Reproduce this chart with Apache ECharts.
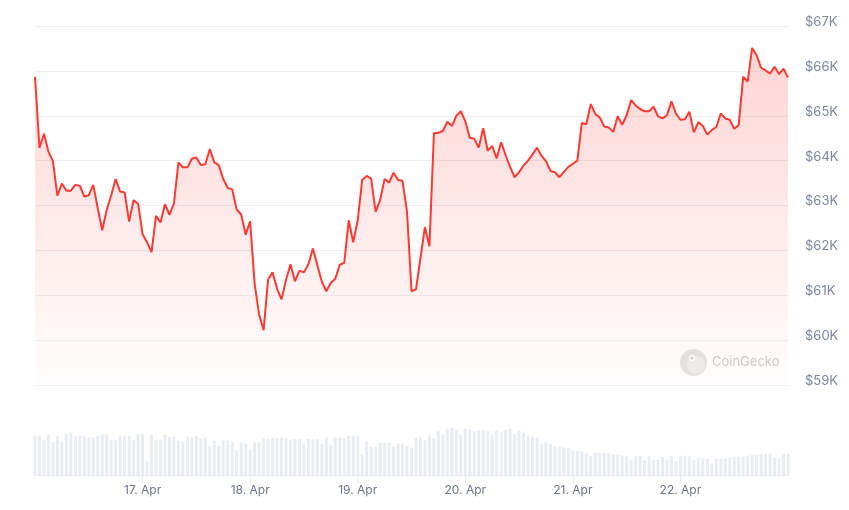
<!DOCTYPE html>
<html>
<head>
<meta charset="utf-8">
<script src="https://cdn.jsdelivr.net/npm/echarts@6/dist/echarts.min.js"></script>
<style>
html, body { margin: 0; padding: 0; background: #fff; }
#chart { width: 849px; height: 510px; }
</style>
</head>
<body>
<div id="chart"></div>
<script>
// hourly points, 16 Apr 00:00 -> 23 Apr 00:00
const startTime = Date.UTC(2024, 3, 16, 0, 0);
const hours = [];
for (let i = 0; i < 169; i++) {
    hours.push(new Date(startTime + i * 3600 * 1000).toISOString());
}

// BTC price (USD)
const prices = [
    65870, 64280, 64600, 64200, 63990, 63220, 63490, 63330, 63330, 63460,
    63440, 63200, 63230, 63460, 62940, 62450, 62900, 63230, 63590, 63310,
    63290, 62640, 63120, 63040, 62360, 62180, 61960, 62770, 62620, 63030,
    62790, 63050, 63960, 63850, 63850, 64040, 64070, 63900, 63920, 64260,
    63960, 63900, 63590, 63390, 63360, 62910, 62800, 62350, 62650, 61260,
    60570, 60220, 61350, 61510, 61150, 60910, 61340, 61690, 61310, 61550,
    61510, 61690, 62040, 61670, 61300, 61090, 61280, 61370, 61680, 61720,
    62670, 62180, 62670, 63570, 63660, 63600, 62860, 63120, 63590, 63510,
    63730, 63570, 63550, 62860, 61090, 61130, 61830, 62520, 62090, 64610,
    64620, 64660, 64870, 64770, 65000, 65100, 64880, 64510, 64490, 64290,
    64720, 64220, 64330, 64050, 64410, 64120, 63860, 63630, 63740, 63890,
    64000, 64140, 64290, 64110, 63990, 63770, 63740, 63630, 63750, 63860,
    63930, 64000, 64840, 64810, 65260, 65040, 64960, 64760, 64740, 64640,
    64990, 64800, 65010, 65350, 65230, 65150, 65100, 65100, 65200, 64990,
    64940, 65010, 65320, 65050, 64910, 64920, 65090, 64630, 64860, 64770,
    64580, 64680, 64750, 65050, 64940, 64910, 64710, 64790, 65870, 65760,
    66510, 66350, 66070, 66010, 65940, 66090, 65930, 66050, 65850
];

// relative traded volume per hour (bar heights, no axis shown)
const volumes = [
    39.3, 39.3, 34.7, 40.3, 33.3, 39.3, 33.3, 41.3, 42.3, 38.7,
    39.3, 38.7, 37.7, 37.7, 38.7, 40.3, 40.3, 34.7, 34.7, 39.3,
    38.7, 39.3, 34.7, 41.3, 41.3, 14.3, 40.3, 35.3, 35.3, 40.3,
    37.7, 38.7, 34.7, 33.7, 38.7, 37.7, 38.7, 36.7, 37.7, 29.3,
    34.3, 29.3, 34.3, 34.3, 33.3, 25.3, 32.7, 31.3, 25.3, 32.7,
    33.3, 36.7, 36.7, 37.3, 37.3, 37.3, 36.7, 35.3, 36, 36,
    31.3, 36, 35.3, 36, 31.3, 37.3, 30.3, 37.3, 37.3, 37.3,
    39.3, 39.3, 39.3, 20.3, 34.3, 28.3, 28.3, 32.3, 32.3, 32.3,
    28.3, 31.3, 31.3, 29.3, 27.3, 37.3,
    37.7, 34.7, 39.3, 36.7, 44.3, 40.7, 46.3, 47.3, 45.3, 40.7,
    46.3, 45.3, 44.3, 45.3, 45.3, 44.3, 40.7, 44.3, 43.3, 45.3,
    46.3, 41.3, 44.3, 42.3, 39.3, 38.7, 37.3, 30.7, 32.3, 30.7,
    29.3, 28.7, 27.7, 27, 24.7, 23.7, 23.3, 22.3, 19.3, 22.3,
    22.3, 22.3, 22.3, 21.3, 20.3, 19.3, 18.7, 15.3, 18.7, 19.3,
    15.3, 18.7, 15.3, 15.3, 18, 15.3, 18.7, 14.3, 18.7, 19.3,
    18.7, 15.3, 17.3, 16.3, 16.3, 11.3, 16.3, 16.3, 16.3, 17.3,
    18.3, 18.3, 18.3, 19.3, 20, 20.3, 21.3, 21.3, 21.3, 17.3,
    16.3, 21.3, 21.3
];

const priceMin = 59000;
const priceMax = 67000;
const priceStep = 1000;

// show a tick/label at each midnight, but not at the two ends
const dayBoundary = function (index) {
    return index % 24 === 0 && index > 0 && index < hours.length - 1;
};

const chart = echarts.init(document.getElementById('chart'));

const option = {
    animation: false,
    textStyle: { fontFamily: 'Inter, "Noto Sans", sans-serif' },
    grid: [
        { left: 35, right: 61, top: 26, height: 359 },
        { left: 35, right: 61, top: 425, height: 50 }
    ],
    xAxis: [
        {
            type: 'category',
            gridIndex: 0,
            data: hours,
            boundaryGap: false,
            show: false
        },
        {
            type: 'category',
            gridIndex: 1,
            data: hours,
            boundaryGap: false,
            axisLine: { lineStyle: { color: '#e6e9ee', width: 1 } },
            axisTick: {
                interval: dayBoundary,
                length: 8,
                lineStyle: { color: '#e6e9ee' }
            },
            axisLabel: {
                interval: dayBoundary,
                margin: 9,
                fontSize: 12,
                color: '#6b7488',
                formatter: function (value) {
                    const d = new Date(value);
                    return d.getUTCDate() + '. Apr';
                }
            },
            splitLine: { show: false }
        }
    ],
    yAxis: [
        {
            type: 'value',
            gridIndex: 0,
            position: 'right',
            min: priceMin,
            max: priceMax,
            interval: priceStep,
            axisLine: { show: false },
            axisTick: { show: false },
            splitLine: { lineStyle: { color: '#eeeff2', width: 1 } },
            axisLabel: {
                margin: 17,
                fontSize: 13,
                color: '#7d869c',
                verticalAlign: 'bottom',
                lineHeight: 8,
                formatter: function (v) {
                    return '$' + (v / 1000) + 'K';
                }
            }
        },
        {
            type: 'value',
            gridIndex: 1,
            min: 0,
            max: 50,
            show: false
        }
    ],
    graphic: [
        // CoinGecko watermark
        { type: 'circle', shape: { cx: 693.5, cy: 362.5, r: 13.5 }, style: { fill: '#e4e4e4' }, z: 1 },
        { type: 'circle', shape: { cx: 696, cy: 365, r: 9 }, style: { fill: '#eeeeee' }, z: 1 },
        { type: 'circle', shape: { cx: 692, cy: 358, r: 3.2 }, style: { fill: '#ffffff' }, z: 1 },
        { type: 'circle', shape: { cx: 692, cy: 358, r: 1.5 }, style: { fill: '#cfcfcf' }, z: 1 },
        {
            type: 'text', x: 712, y: 362, z: 1,
            style: {
                text: 'CoinGecko',
                fill: '#cdcdcd',
                font: '13px Inter, sans-serif',
                verticalAlign: 'middle'
            }
        }
    ],
    series: [
        {
            name: 'Price',
            type: 'line',
            xAxisIndex: 0,
            yAxisIndex: 0,
            data: prices,
            showSymbol: false,
            silent: true,
            lineStyle: { color: '#ff3a33', width: 2 },
            itemStyle: { color: '#ff3a33' },
            areaStyle: {
                origin: 'start',
                color: new echarts.graphic.LinearGradient(0, 0, 0, 1, [
                    { offset: 0, color: 'rgba(255, 58, 51, 0.3)' },
                    { offset: 1, color: 'rgba(255, 58, 51, 0.01)' }
                ])
            },
            z: 3
        },
        {
            name: 'Volume',
            type: 'bar',
            xAxisIndex: 1,
            yAxisIndex: 1,
            data: volumes,
            barWidth: 3,
            silent: true,
            itemStyle: { color: '#e9edf1' }
        }
    ]
};

chart.setOption(option);
</script>
</body>
</html>
